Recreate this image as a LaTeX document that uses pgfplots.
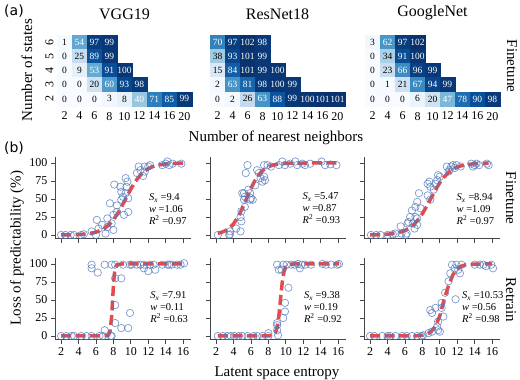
\documentclass[border=0pt]{standalone}
\usepackage{fontspec}
\setmainfont{Liberation Serif}
\newfontfamily\labsans{DejaVu Sans}
\usepackage{pgfplots}
\usepackage{pgfplotstable}
\pgfplotsset{compat=1.18}
\definecolor{spine}{RGB}{70,70,70}
\definecolor{mred}{RGB}{226,44,44}
\definecolor{mblue}{RGB}{80,120,185}
\newcommand\labfont{\fontsize{15}{15}\selectfont}
\newcommand\ticfont{\fontsize{12}{12}\selectfont}
\newcommand\hmfont{\fontsize{9.5}{9.5}\selectfont}
\newcommand\statfont{\fontsize{10.5}{12}\selectfont}

\pgfplotstableread{
x y v
0 6 1
1 6 54
2 6 97
3 6 99
0 5 0
1 5 25
2 5 89
3 5 99
0 4 0
1 4 9
2 4 53
3 4 91
4 4 100
0 3 0
1 3 0
2 3 20
3 3 60
4 3 93
5 3 98
0 2 0
1 2 0
2 2 0
3 2 3
4 2 8
5 2 40
6 2 71
7 2 85
8 2 99
}\hmA
\pgfplotstableread{
x y v
0 6 70
1 6 97
2 6 102
3 6 98
0 5 38
1 5 93
2 5 101
3 5 99
0 4 15
1 4 84
2 4 101
3 4 99
4 4 100
0 3 2
1 3 63
2 3 81
3 3 98
4 3 100
5 3 99
0 2 0
1 2 2
2 2 26
3 2 63
4 2 88
5 2 99
6 2 100
7 2 101
8 2 101
}\hmB
\pgfplotstableread{
x y v
0 6 3
1 6 62
2 6 97
3 6 102
0 5 0
1 5 34
2 5 91
3 5 100
0 4 0
1 4 23
2 4 66
3 4 96
4 4 99
0 3 0
1 3 1
2 3 21
3 3 67
4 3 94
5 3 99
0 2 0
1 2 0
2 2 0
3 2 6
4 2 20
5 2 47
6 2 78
7 2 90
8 2 98
}\hmC

\tikzset{stat/.style={anchor=west, align=left, font=\statfont, inner sep=0pt}}
\pgfplotsset{
 hm/.style={scale only axis, width=135pt, height=71pt,
   xmin=-0.5, xmax=8.5, ymin=1.5, ymax=6.5,
   axis line style={draw=none}, major tick length=0pt,
   xtick={0,...,8}, xticklabels={2,4,6,8,10,12,14,16,20},
   ytick={2,...,6},
   tick label style={font=\ticfont},
   xticklabel style={yshift=-2.5pt},
   yticklabel style={rotate=90, anchor=south},
   /pgf/number format/assume math mode=true,
   colormap={blues}{rgb255=(247,251,255) rgb255=(222,235,247) rgb255=(198,219,239) rgb255=(158,202,225) rgb255=(107,174,214) rgb255=(66,146,198) rgb255=(33,113,181) rgb255=(8,81,156) rgb255=(8,48,107)},
   point meta min=0, point meta max=102,
   title style={font=\fontsize{16}{16}\selectfont, yshift=5.7pt},
   clip=false},
 hmcells/.style={scatter, only marks, mark=square*, mark size=7.55pt, point meta=explicit,
   scatter/use mapped color={draw=mapped color, fill=mapped color},
   mark options={yscale=0.947, line width=0.2pt}},
 darklab/.style={only marks, mark=none, point meta=explicit, nodes near coords, nodes near coords align={center},
   every node near coord/.append style={font=\hmfont, text=black, inner sep=0pt},
   restrict expr to domain={\thisrow{v}}{-1:39}},
 lightlab/.style={only marks, mark=none, point meta=explicit, nodes near coords, nodes near coords align={center},
   every node near coord/.append style={font=\hmfont, text=white, inner sep=0pt},
   restrict expr to domain={\thisrow{v}}{39.5:200}},
 sc/.style={scale only axis, width=136pt, height=81.4pt,
   xmin=1.3, xmax=16.9, ymin=-5, ymax=108,
   axis x line*=bottom, axis y line*=left,
   axis line style={spine, line width=0.8pt},
   xtick={2,4,...,16}, ytick={0,25,50,75,100},
   tick style={spine, line width=0.8pt}, tick align=outside, major tick length=4pt,
   tick label style={font=\ticfont},
   /pgf/number format/assume math mode=true,
   point meta=none,
   clip=false},
 datapts/.style={point meta=none, only marks, mark=o, mark size=3.7pt, mark options={draw=mblue, line width=0.7pt, draw opacity=0.75}},
 fitline/.style={point meta=none, no marks, draw=mred, line width=3.5pt, dash pattern=on 10pt off 4.5pt, draw opacity=0.85},
}

\begin{document}
\begin{tikzpicture}
\path[use as bounding box] (0pt,0pt) rectangle (520pt,380pt);

% ---------- (a) heatmaps ----------
\begin{axis}[hm, at={(57pt,274pt)}, anchor=south west, title={VGG19}]
\addplot[hmcells] table[x=x,y=y,meta=v] {\hmA};
\addplot[darklab] table[x=x,y=y,meta=v] {\hmA};
\addplot[lightlab] table[x=x,y=y,meta=v] {\hmA};
\end{axis}
\begin{axis}[hm, at={(210pt,274pt)}, anchor=south west, title={ResNet18}, yticklabels={}]
\addplot[hmcells] table[x=x,y=y,meta=v] {\hmB};
\addplot[darklab] table[x=x,y=y,meta=v] {\hmB};
\addplot[lightlab] table[x=x,y=y,meta=v] {\hmB};
\end{axis}
\begin{axis}[hm, at={(365pt,274pt)}, anchor=south west, title={GoogleNet}, yticklabels={}]
\addplot[hmcells] table[x=x,y=y,meta=v] {\hmC};
\addplot[darklab] table[x=x,y=y,meta=v] {\hmC};
\addplot[lightlab] table[x=x,y=y,meta=v] {\hmC};
\end{axis}

% ---------- (b) row 1: Finetune ----------
\begin{axis}[sc, at={(55pt,141.4pt)}, anchor=south west, xticklabels={}]
\addplot[datapts] coordinates {(2.0,0) (2.5,0) (3.1,0) (3.5,0) (4.3,0) (4.6,1) (5.5,5) (6.0,0) (6.3,9) (6.1,21)
 (6.7,14) (7.1,2) (7.3,11) (7.3,23) (7.6,44) (7.8,16) (8.0,7) (8.0,28) (8.1,70) (8.4,32) (8.4,41)
 (8.8,67) (8.9,49) (8.9,60) (9.1,53) (9.2,28) (9.4,58) (9.4,79) (9.5,67) (9.6,74) (9.7,32) (9.7,51)
 (10.7,86) (10.9,95) (11.1,90) (11.4,82) (11.6,88) (11.6,95) (12.0,95) (12.2,97) (13.6,97) (14.0,99)
 (14.2,102) (14.4,97) (14.8,99) (15.8,99)};
\addplot[fitline] coordinates {(2,0.1) (3,0.2) (4,0.6) (5,1.5) (6,3.9) (6.5,6.1) (7,9.4) (7.5,14.3) (8,21.0)
 (8.5,30.0) (9,40.6) (9.5,52.4) (10,63.8) (10.5,73.9) (11,81.9) (11.5,87.9) (12,92.1) (12.5,94.9)
 (13,96.8) (14,98.7) (15,99.5) (16,99.8)};
\node[stat] at (rel axis cs:0.69,0.36) {\textit{S}\textsubscript{\textit{x}} =9.4\\\textit{w} =1.06\\\textit{R}\textsuperscript{2} =0.97};
\end{axis}

\begin{axis}[sc, at={(210pt,141.4pt)}, anchor=south west, xticklabels={}, yticklabels={}]
\addplot[datapts] coordinates {(2.2,0) (3.5,0) (3.6,1) (3.6,5) (4.3,9) (4.8,5) (4.8,25) (4.9,33) (4.9,19)
 (5.0,58) (5.2,49) (5.2,58) (5.3,39) (5.3,53) (5.4,86) (5.6,97) (5.7,63) (5.9,49) (5.9,58) (6.0,51)
 (6.2,49) (6.5,69) (6.7,90) (6.9,86) (7.1,79) (7.3,74) (7.5,81) (7.5,97) (7.6,76) (7.9,97) (8.3,95)
 (9.2,97) (9.6,102) (9.9,97) (10.5,99) (11.1,102) (11.3,97) (11.9,99) (12.2,97) (12.8,99) (14.1,102)
 (14.5,97) (15.1,98) (15.8,97)};
\addplot[fitline] coordinates {(2.2,2.3) (2.5,3.2) (3,5.5) (3.5,9.4) (4,15.6) (4.5,24.7) (5,36.8) (5.5,50.9)
 (6,64.8) (6.5,76.6) (7,85.3) (7.5,91.1) (8,94.8) (8.5,97.0) (9,98.3) (10,99.5) (11,99.8) (12,99.9)
 (13,100) (14,100) (15,100) (15.8,100)};
\node[stat] at (rel axis cs:0.68,0.37) {\textit{S}\textsubscript{\textit{x}} =5.47\\\textit{w} =0.87\\\textit{R}\textsuperscript{2} =0.93};
\end{axis}

\begin{axis}[sc, at={(364pt,141.4pt)}, anchor=south west, xticklabels={}, yticklabels={}]
\addplot[datapts] coordinates {(2.1,0) (2.7,0) (3.2,0) (4.0,0) (4.6,1) (4.9,2) (5.5,12) (5.6,2) (6.1,0) (6.2,2)
 (6.3,16) (6.4,18) (6.6,25) (6.8,34) (6.9,16) (7.1,9) (7.2,25) (7.2,39) (7.4,14) (7.4,46) (7.4,23)
 (7.6,58) (7.8,37) (8.6,55) (8.6,71) (8.8,74) (8.9,67) (8.9,49) (9.3,63) (9.5,71) (9.7,76) (9.8,83)
 (10.0,81) (10.8,95) (11.0,88) (11.1,90) (11.3,95) (11.5,97) (11.7,93) (11.9,97) (12.4,95) (13.6,99)
 (13.8,95) (14.0,97) (14.2,99) (14.5,97) (15.4,99) (15.6,97)};
\addplot[fitline] coordinates {(2,0.2) (3,0.4) (4,1.1) (5,2.6) (5.5,4.1) (6,6.3) (6.5,9.6) (7,14.4) (7.5,21.0)
 (8,29.7) (8.5,40.0) (9,51.4) (9.5,62.6) (10,72.6) (10.5,80.7) (11,86.9) (11.5,91.3) (12,94.3)
 (12.5,96.2) (13,97.6) (14,99.0) (15,99.6) (15.6,99.7)};
\node[stat] at (rel axis cs:0.68,0.36) {\textit{S}\textsubscript{\textit{x}} =8.94\\\textit{w} =1.09\\\textit{R}\textsuperscript{2} =0.97};
\end{axis}

% ---------- (b) row 2: Retrain ----------
\begin{axis}[sc, at={(55pt,40.4pt)}, anchor=south west]
\addplot[datapts] coordinates {(2.0,0) (2.6,0) (3.2,0) (3.5,0) (4.3,0) (4.9,0) (5.5,0) (5.5,99) (5.5,94) (6.2,88)
 (6.4,0) (6.8,0) (7.0,99) (7.0,8) (7.7,0) (7.8,0) (7.8,99) (8.2,99) (8.2,43) (8.2,18) (8.2,80) (8.9,80)
 (8.9,11) (9.1,99) (9.7,11) (9.9,32) (9.9,99) (10.1,99) (10.7,99) (11.1,99) (11.5,99) (11.5,94)
 (12.0,90) (12.2,99) (12.6,99) (12.8,92) (13.6,99) (14.2,99) (14.4,99) (14.7,99) (15.3,99) (15.7,99)
 (16.1,101)};
\addplot[fitline] coordinates {(2,0) (3,0) (4,0) (5,0) (6,0) (7,0.03) (7.4,1.0) (7.6,5.6) (7.8,27) (7.9,48)
 (8.0,69.5) (8.1,85) (8.2,93.4) (8.4,98.8) (9,100) (10,100) (11,100) (12,100) (13,100) (14,100)
 (15,100) (16,100)};
\node[stat] at (rel axis cs:0.70,0.40) {\textit{S}\textsubscript{\textit{x}} =7.91\\\textit{w} =0.11\\\textit{R}\textsuperscript{2} =0.63};
\end{axis}

\begin{axis}[sc, at={(210pt,40.4pt)}, anchor=south west, yticklabels={}]
\addplot[datapts] coordinates {(2.2,0) (2.8,0) (3.3,0) (3.7,0) (4.1,0) (4.6,0) (5.0,0) (5.6,0) (6.3,0) (6.7,0)
 (7.3,0) (8.0,0) (8.0,4) (9.0,8) (9.0,15) (9.0,18) (9.1,1) (9.0,99) (9.2,92) (9.5,92) (9.7,99) (9.7,25)
 (9.9,34) (9.9,46) (10.1,99) (10.3,67) (10.6,99) (11.0,99) (11.4,100) (11.6,94) (11.8,99) (12.2,99)
 (12.9,99) (14.2,100) (14.6,99) (15.2,99) (15.9,99) (16.1,100)};
\addplot[fitline] coordinates {(2.2,0) (3,0) (4,0) (5,0) (6,0) (7,0) (8,0.07) (8.5,1.0) (8.8,4.5) (9.0,12)
 (9.2,28) (9.4,52.6) (9.6,76) (9.8,90) (10,96) (10.4,99.5) (11,100) (12,100) (13,100) (14,100)
 (15,100) (16.1,100)};
\node[stat] at (rel axis cs:0.69,0.40) {\textit{S}\textsubscript{\textit{x}} =9.38\\\textit{w} =0.19\\\textit{R}\textsuperscript{2} =0.92};
\end{axis}

\begin{axis}[sc, at={(364pt,40.4pt)}, anchor=south west, yticklabels={}]
\addplot[datapts] coordinates {(2.0,0) (2.5,0) (3.4,0) (4.0,0) (4.3,0) (4.9,0) (5.7,0) (6.2,0) (6.8,0) (7.4,0)
 (7.9,0) (8.1,1) (8.7,4) (9.1,6) (8.9,36) (9.1,32) (9.5,39) (9.7,13) (9.8,20) (9.8,8) (10.0,6)
 (10.2,39) (10.2,46) (10.4,27) (10.6,60) (11.0,76) (11.2,87) (11.4,99) (11.8,51) (11.9,99) (11.7,94)
 (12.1,92) (12.3,87) (12.5,99) (14.0,99) (14.6,99) (15.0,99) (15.3,97) (15.9,99) (16.1,94)};
\addplot[fitline] coordinates {(2,0) (3,0) (4,0) (5,0) (6,0) (7,0.2) (7.5,0.4) (8,1.1) (8.5,2.6) (9,6.1)
 (9.5,13.7) (10,28) (10.5,51.3) (11,70) (11.5,85) (12,93.3) (12.5,97.1) (13,98.8) (14,99.8) (15,100)
 (16,100)};
\node[stat] at (rel axis cs:0.72,0.40) {\textit{S}\textsubscript{\textit{x}} =10.53\\\textit{w} =0.56\\\textit{R}\textsuperscript{2} =0.98};
\end{axis}

% ---------- labels ----------
\node[font=\labsans\fontsize{14}{14}\selectfont] at (14pt,369pt) {(a)};
\node[font=\labsans\fontsize{14}{14}\selectfont] at (14pt,232pt) {(b)};
\node[font=\labfont, rotate=90] at (27pt,310pt) {Number of states};
\node[font=\labfont] at (276pt,242pt) {Number of nearest neighbors};
\node[font=\labfont, rotate=-90] at (512pt,314pt) {Finetune};
\node[font=\labfont, rotate=-90] at (511pt,182pt) {Finetune};
\node[font=\labfont, rotate=-90] at (511pt,80pt) {Retrain};
\node[font=\labfont, rotate=90] at (17pt,132pt) {Loss of predictability (\%)};
\node[font=\labfont] at (277pt,7pt) {Latent space entropy};
\end{tikzpicture}
\end{document}
